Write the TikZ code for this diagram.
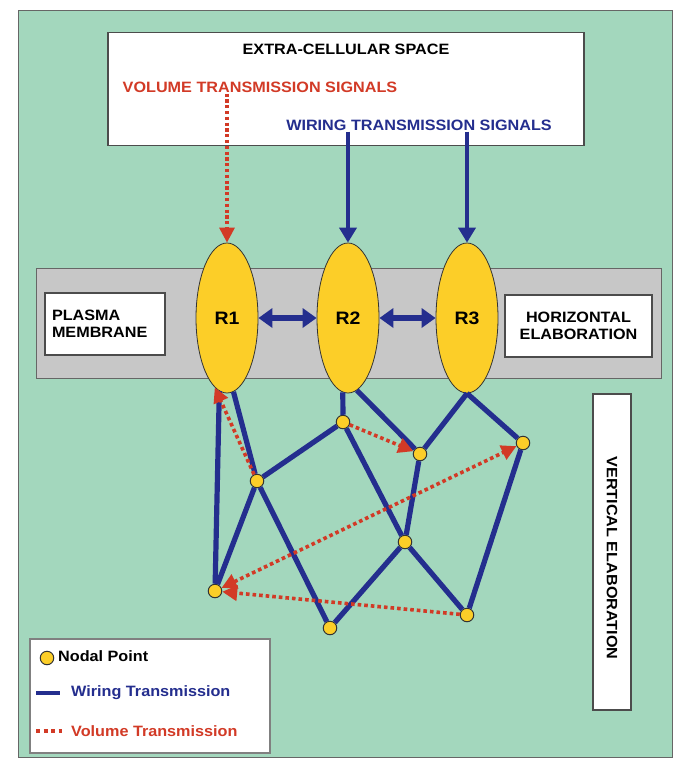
\documentclass[tikz,border=0pt]{standalone}
\usepackage{fontspec}
\setmainfont{Liberation Sans}[FakeStretch=1.08]
\usetikzlibrary{arrows.meta,shapes.geometric}
\definecolor{bggreen}{RGB}{163,215,189}
\definecolor{membranegray}{RGB}{199,199,199}
\definecolor{nodeyellow}{RGB}{252,206,40}
\definecolor{wireblue}{RGB}{36,46,142}
\definecolor{volred}{RGB}{210,58,38}
\begin{document}
\begin{tikzpicture}[x=1pt, y=-1pt]
            \tikzstyle{panel} = [draw=black!70, fill=white, line width=1.2pt, inner sep=0pt]
            \tikzstyle{title} = [font=\bfseries\fontsize{15}{17}\selectfont, inner sep=1pt]
            \tikzstyle{receptor} = [ellipse, draw=black!80, fill=nodeyellow, line width=0.8pt, minimum width=62pt, minimum height=150pt, inner sep=0pt, font=\bfseries\fontsize{18}{20}\selectfont]
            \tikzstyle{nodal} = [circle, draw=black!80, fill=nodeyellow, line width=1pt, minimum size=13.5pt, inner sep=0pt]
            \tikzstyle{wiring} = [draw=wireblue, line width=5.2pt]
            \tikzstyle{volume} = [draw=volred, line width=3.6pt, dash pattern=on 3.6pt off 3pt]
            \tikzstyle{headtip} = [-{Triangle[length=15pt, width=17pt]}]
            \tikzstyle{redtip} = [-{Triangle[length=15pt, width=15pt]}]
            \tikzstyle{twoway} = [{Triangle[length=14pt, width=19pt]}-{Triangle[length=14pt, width=19pt]}]
            \useasboundingbox (0, 0) rectangle (685, 761);
            % background and frame
            \draw[fill=bggreen, draw=black!60, line width=1pt] (18, 10) rectangle (672, 757);
            % extra-cellular space
            \node[panel, minimum width=476pt, minimum height=113pt] (ecs) at (346, 89) {};
            \node[title] (ecstext) at (346, 49) {EXTRA-CELLULAR SPACE};
            \node[title, text=volred] (vts) at (260, 87) {VOLUME TRANSMISSION SIGNALS};
            \node[title, text=wireblue] (wts) at (419, 125) {WIRING TRANSMISSION SIGNALS};
            % membrane
            \node[draw=black!60, fill=membranegray, line width=1pt, minimum width=625pt, minimum height=110pt] (pm) at (348.5, 323) {};
            \node[panel, title, minimum width=120pt, minimum height=62pt, text width=106pt, inner xsep=7pt, align=left] (plasma) at (105, 324) {PLASMA\\MEMBRANE};
            \node[panel, title, minimum width=147pt, minimum height=62pt, align=center] (horiz) at (578.5, 326) {HORIZONTAL\\ELABORATION};
            % receptors
            \node[receptor] (R1) at (227, 318) {R1};
            \node[receptor] (R2) at (348, 318) {R2};
            \node[receptor] (R3) at (467, 318) {R3};
            \draw[wiring, twoway] (R1) -- (R2);
            \draw[wiring, twoway] (R2) -- (R3);
            \draw[volume, line width=3.2pt, dash pattern=on 3.2pt off 2.6pt, redtip] (R1 |- vts.south) -- (R1.north);
            \draw[wiring, line width=4.2pt, headtip] (R2 |- wts.south) -- (R2.north);
            \draw[wiring, line width=4.2pt, headtip] (R3 |- wts.south) -- (R3.north);
            % nodal points
            \node[nodal] (n1) at (257, 481) {};
            \node[nodal] (n2) at (343, 422) {};
            \node[nodal] (n3) at (420, 454) {};
            \node[nodal] (n4) at (523, 443) {};
            \node[nodal] (n5) at (405, 542) {};
            \node[nodal] (n6) at (215, 591) {};
            \node[nodal] (n7) at (467, 615) {};
            \node[nodal] (n8) at (330, 628) {};
            % wiring transmission
            \draw[wiring] (R1.-96) -- (n6);
            \draw[wiring] (R1.-85) -- (n1);
            \draw[wiring] (R2.-94) -- (n2);
            \draw[wiring] (R2.-83) -- (n3);
            \draw[wiring] (R3.south) -- (n3);
            \draw[wiring] (R3.south) -- (n4);
            \draw[wiring] (n1) -- (n2);
            \draw[wiring] (n1) -- (n6);
            \draw[wiring] (n1) -- (n8);
            \draw[wiring] (n2) -- (n5);
            \draw[wiring] (n3) -- (n5);
            \draw[wiring] (n5) -- (n8);
            \draw[wiring] (n5) -- (n7);
            \draw[wiring] (n4) -- (n7);
            % volume transmission
            \draw[volume, redtip] (n1) -- (R1.-100);
            \draw[volume, redtip] (n2) -- (n3);
            \draw[volume, redtip] (n7) -- (n6);
            \draw[volume, {Triangle[length=15pt, width=15pt]}-{Triangle[length=15pt, width=15pt]}] (n6) -- (n4);
            % vertical elaboration
            \node[panel, minimum width=38pt, minimum height=316pt] (vert) at (612, 552) {};
            \node[title, rotate=-90] (verttext) at (612, 558) {VERTICAL ELABORATION};
            % legend
            \node[panel, draw=black!50, minimum width=240pt, minimum height=114pt] (legend) at (150, 696) {};
            \node[nodal] (lgnode) at (47, 658) {};
            \node[title, anchor=west] (lgnodetext) at (57, 656) {Nodal Point};
            \coordinate (lgw1) at (36, 693);
            \coordinate (lgw2) at (60, 693);
            \draw[wiring, line width=4.4pt] (lgw1) -- (lgw2);
            \node[title, text=wireblue, anchor=west] (lgwtext) at (70, 693) {Wiring Transmission};
            \coordinate (lgv1) at (36, 731);
            \coordinate (lgv2) at (62, 731);
            \draw[volume, dash pattern=on 4pt off 3.5pt] (lgv1) -- (lgv2);
            \node[title, text=volred, anchor=west] (lgvtext) at (70, 731) {Volume Transmission};
\end{tikzpicture}
\end{document}
